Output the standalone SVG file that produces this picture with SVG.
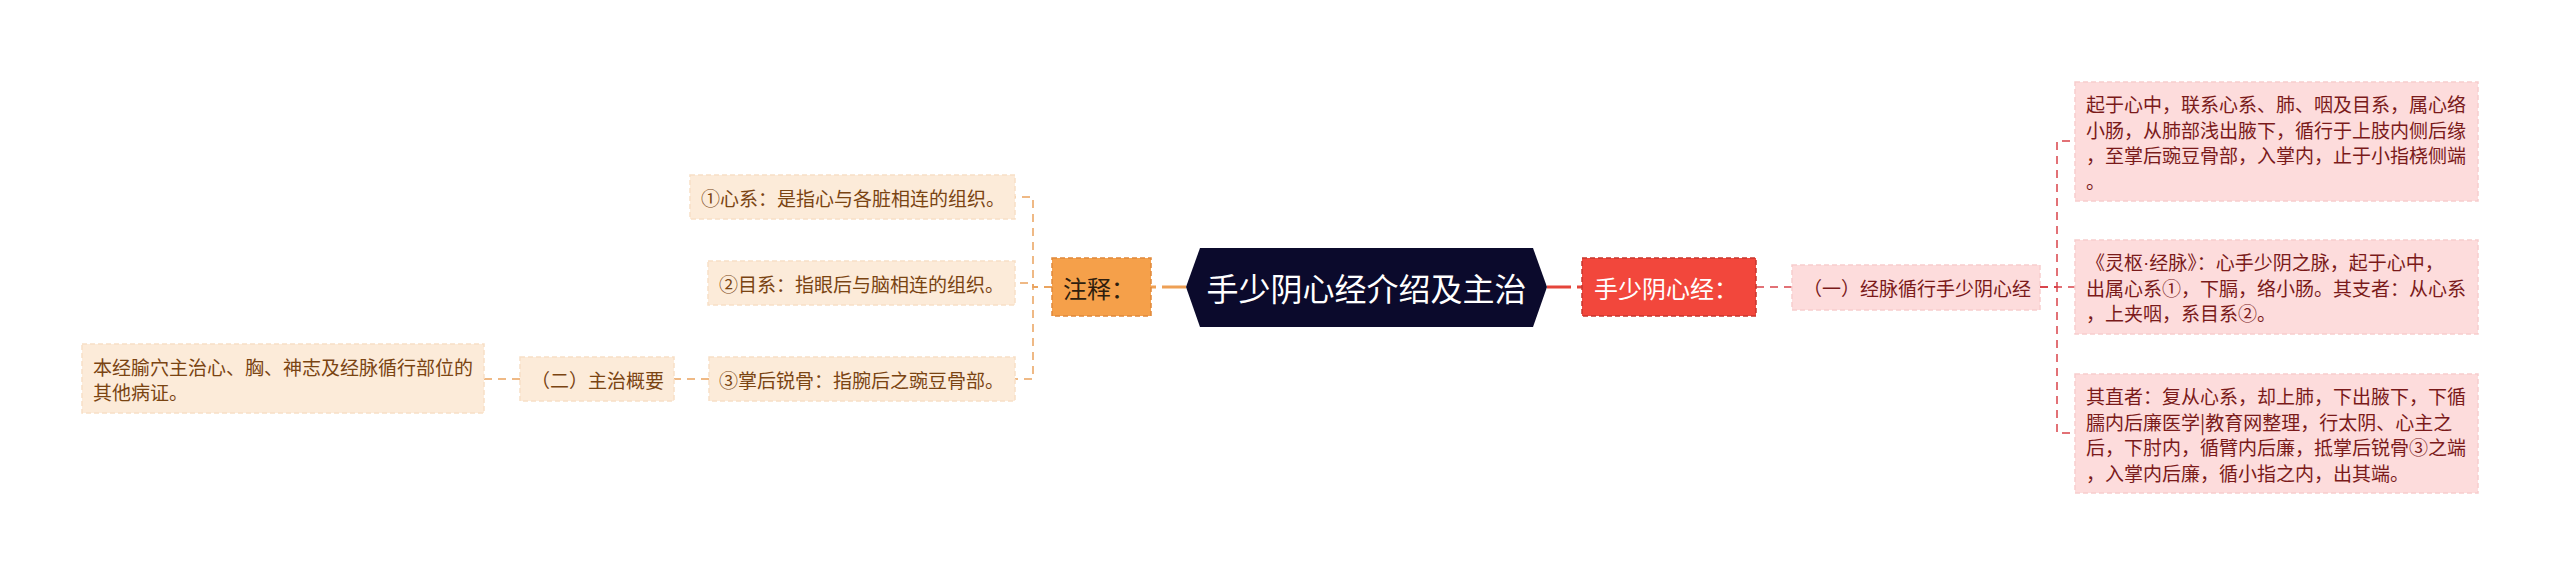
<svg xmlns="http://www.w3.org/2000/svg" width="2560" height="575" viewBox="0 0 2560 575">
<style>
text{font-family:"Noto Sans CJK SC","Liberation Sans",sans-serif;dominant-baseline:central}
.pk rect{fill:#fddcdc;stroke:#f7cdcd;stroke-width:1.5;stroke-dasharray:5 3}
.pk text{font-size:19px;fill:#7a1a1a}
.pc rect{fill:#fcebd9;stroke:#f8dfc6;stroke-width:1.5;stroke-dasharray:5 3}
.pc text{font-size:19px;fill:#7a4412}
.cr{fill:none;stroke:#d9434a;stroke-width:1.5;stroke-dasharray:8 6}
.co{fill:none;stroke:#eaa25e;stroke-width:1.5;stroke-dasharray:8 6}
.lat{font-family:"Liberation Sans",sans-serif}
</style>
<rect width="2560" height="575" fill="#ffffff"/>
<g id="connectors">
<path d="M1547 287 H1582" fill="none" stroke="#e5453b" stroke-width="3" stroke-dasharray="24 6"/>
<path class="cr" d="M1756 287 H1792"/>
<path class="cr" d="M2040 287 H2057 V141 H2075"/>
<path class="cr" d="M2040 287 H2057 V433 H2075"/>
<path class="cr" d="M2040 287 H2075"/>
<path d="M1186 287 H1151" fill="none" stroke="#eea055" stroke-width="3" stroke-dasharray="24 6"/>
<path class="co" d="M1052 287 H1033 V197 H1015"/>
<path class="co" d="M1052 287 H1033 V379 H1015"/>
<path class="co" d="M1052 287 H1033 V283 H1015"/>
<path class="co" d="M709 379 H674"/>
<path class="co" d="M520 379 H484"/>
</g>
<g id="root">
<polygon points="1186,287 1200,248 1533,248 1547,287 1533,327 1200,327" fill="#0b0a2c"/>
<text x="1366.5" y="287" font-size="32" fill="#ffffff" text-anchor="middle">手少阴心经介绍及主治</text>
</g>
<g id="n-jing">
<rect x="1582" y="258" width="174" height="58" fill="#f2473c" stroke="#c8362d" stroke-width="1.5" stroke-dasharray="5 3"/>
<text x="1594" y="287" font-size="24" fill="#ffffff">手少阴心经：</text>
</g>
<g id="n-yi" class="pk">
<rect x="1792" y="265" width="248" height="45"/>
<text x="1803" y="287.5">（一）经脉循行手少阴心经</text>
</g>
<g id="n-r1" class="pk">
<rect x="2075" y="82" width="403" height="119"/>
<text x="2086" y="103.5">起于心中，联系心系、肺、咽及目系，属心络</text>
<text x="2086" y="129">小肠，从肺部浅出腋下，循行于上肢内侧后缘</text>
<text x="2086" y="154.5">，至掌后豌豆骨部，入掌内，止于小指桡侧端</text>
<text x="2086" y="180">。</text>
</g>
<g id="n-r2" class="pk">
<rect x="2075" y="240" width="403" height="94"/>
<text x="2086" y="261.5">《灵枢<tspan class="lat">·</tspan>经脉》：心手少阴之脉，起于心中，</text>
<text x="2086" y="287">出属心系①，下膈，络小肠。其支者：从心系</text>
<text x="2086" y="312.5">，上夹咽，系目系②。</text>
</g>
<g id="n-r3" class="pk">
<rect x="2075" y="374" width="403" height="119"/>
<text x="2086" y="395.5">其直者：复从心系，却上肺，下出腋下，下循</text>
<text x="2086" y="421">臑内后廉医学|教育网整理，行太阴、心主之</text>
<text x="2086" y="446.5">后，下肘内，循臂内后廉，抵掌后锐骨③之端</text>
<text x="2086" y="472">，入掌内后廉，循小指之内，出其端。</text>
</g>
<g id="n-zhu">
<rect x="1052" y="258" width="99" height="58" fill="#f5a04a" stroke="#e0883a" stroke-width="1.5" stroke-dasharray="5 3"/>
<text x="1063" y="287" font-size="24" fill="#2e1e0e">注释：</text>
</g>
<g id="n-l1" class="pc">
<rect x="690" y="175" width="325" height="44"/>
<text x="701" y="197">①心系：是指心与各脏相连的组织。</text>
</g>
<g id="n-l2" class="pc">
<rect x="708" y="261" width="307" height="44"/>
<text x="719" y="283">②目系：指眼后与脑相连的组织。</text>
</g>
<g id="n-l3" class="pc">
<rect x="709" y="357" width="306" height="44"/>
<text x="719" y="379">③掌后锐骨：指腕后之豌豆骨部。</text>
</g>
<g id="n-er" class="pc">
<rect x="520" y="357" width="154" height="44"/>
<text x="531" y="379">（二）主治概要</text>
</g>
<g id="n-leaf" class="pc">
<rect x="82" y="344" width="402" height="69"/>
<text x="93" y="366">本经腧穴主治心、胸、神志及经脉循行部位的</text>
<text x="93" y="391.5">其他病证。</text>
</g>
</svg>
